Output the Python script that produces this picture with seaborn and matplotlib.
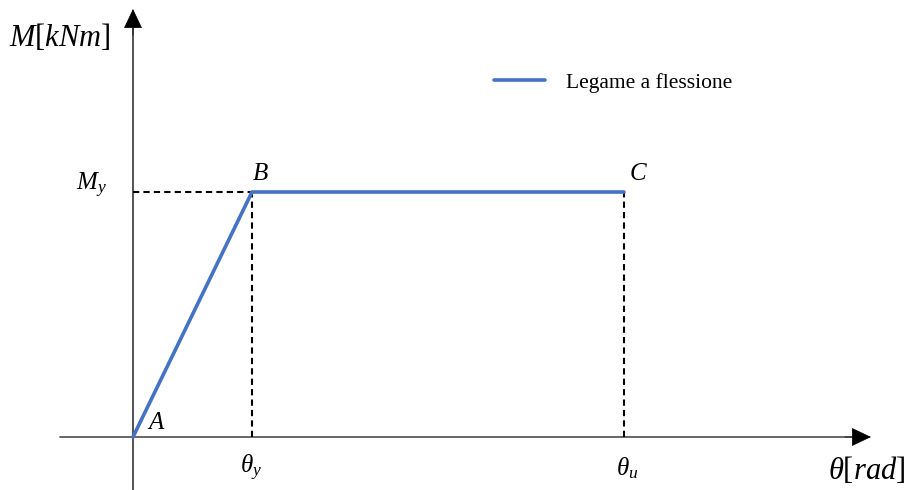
import matplotlib
matplotlib.use("Agg")
import matplotlib.pyplot as plt
import matplotlib.transforms as mtransforms
import seaborn as sns
import pandas as pd

sns.set_theme(style="white")
plt.rcParams['font.family'] = ['Liberation Serif', 'DejaVu Serif']
plt.rcParams['mathtext.fontset'] = 'custom'
plt.rcParams['mathtext.rm'] = 'Liberation Serif'
plt.rcParams['mathtext.it'] = 'Liberation Serif:italic'
plt.rcParams['mathtext.bf'] = 'Liberation Serif:bold'
plt.rcParams['text.color'] = 'black'

# Data (arbitrary units: theta_y = 1, M_y = 1)
point_labels = ["A", "B", "C"]
theta = [0.0, 1.0, 4.126]
moment = [0.0, 1.0, 1.0]
series_name = "Legame a flessione"
x_label = r"$\theta[rad]$"
y_label = r"$M[kNm]$"
tick_x_labels = [r"$\theta_y$", r"$\theta_u$"]
tick_y_label = r"$M_y$"

df = pd.DataFrame({"theta": theta, "M": moment, "serie": series_name})

W, H = 906, 490
fig = plt.figure(figsize=(W / 100, H / 100), dpi=100)
ax = fig.add_axes([0, 0, 1, 1])
ax.set_axis_off()

# pixel mapping: origin at (133, 437); theta unit 119 px; M unit 245 px
x0, y0, sx, sy = 133, 437, 119, 245
ax.set_xlim(-x0 / sx, (W - x0) / sx)
ax.set_ylim(-(H - y0) / sy, y0 / sy)

def px(xp, yp):
    return (xp - x0) / sx, (y0 - yp) / sy

# axes lines
ax.plot(*zip(px(60, 437), px(860, 437)), color="#666666", lw=1.4, zorder=1)
ax.plot(*zip(px(133, 492), px(133, 20)), color="#444444", lw=1.3, zorder=1)
head = dict(arrowstyle="-|>,head_length=0.95,head_width=0.45", mutation_scale=13.5,
            color="black", lw=0.5, shrinkA=0, shrinkB=0)
ax.annotate("", xy=px(871, 437), xytext=px(845, 437), arrowprops=head)
ax.annotate("", xy=px(133, 9), xytext=px(133, 35), arrowprops=head)

# dashed guides
dash = dict(color="black", lw=1.5, linestyle=(0, (3, 2)), zorder=2)
ax.plot([0, theta[1]], [moment[1], moment[1]], **dash)
ax.plot([theta[1], theta[1]], [0, moment[1]], **dash)
ax.plot([theta[2], theta[2]], [0, moment[2]], **dash)

sns.lineplot(data=df, x="theta", y="M", hue="serie", palette=["#4472C4"],
             lw=2.6, ax=ax, zorder=3, sort=False)

leg = ax.legend(loc="center left", bbox_to_anchor=(494 / W, 1 - 83 / H),
                bbox_transform=fig.transFigure, frameon=False, fontsize=15.5,
                handlelength=2.35, handletextpad=1.0, borderpad=0, borderaxespad=0)

lab_fs = 18
# point labels
ax.text(*px(156, 423), point_labels[0], fontsize=lab_fs, style="italic", ha="center", va="center")
ax.text(theta[1], moment[1], point_labels[1], fontsize=lab_fs, style="italic", ha="left", va="bottom",
        transform=ax.transData + mtransforms.ScaledTranslation(1 / 100, 7 / 100, fig.dpi_scale_trans))
ax.text(theta[2], moment[2], point_labels[2], fontsize=lab_fs, style="italic", ha="left", va="bottom",
        transform=ax.transData + mtransforms.ScaledTranslation(6 / 100, 7 / 100, fig.dpi_scale_trans))

# tick-like labels
ax.text(*px(91, 185), tick_y_label, fontsize=lab_fs, ha="center", va="center")
ax.text(*px(251, 468), tick_x_labels[0], fontsize=lab_fs, ha="center", va="center")
ax.text(*px(627, 468), tick_x_labels[1], fontsize=lab_fs, ha="center", va="center")

# axis titles
ax.text(*px(9, 37), y_label, fontsize=22, ha="left", va="center")
ax.text(*px(905, 470), x_label, fontsize=22, ha="right", va="center")

fig.savefig("out.png", dpi=100)
